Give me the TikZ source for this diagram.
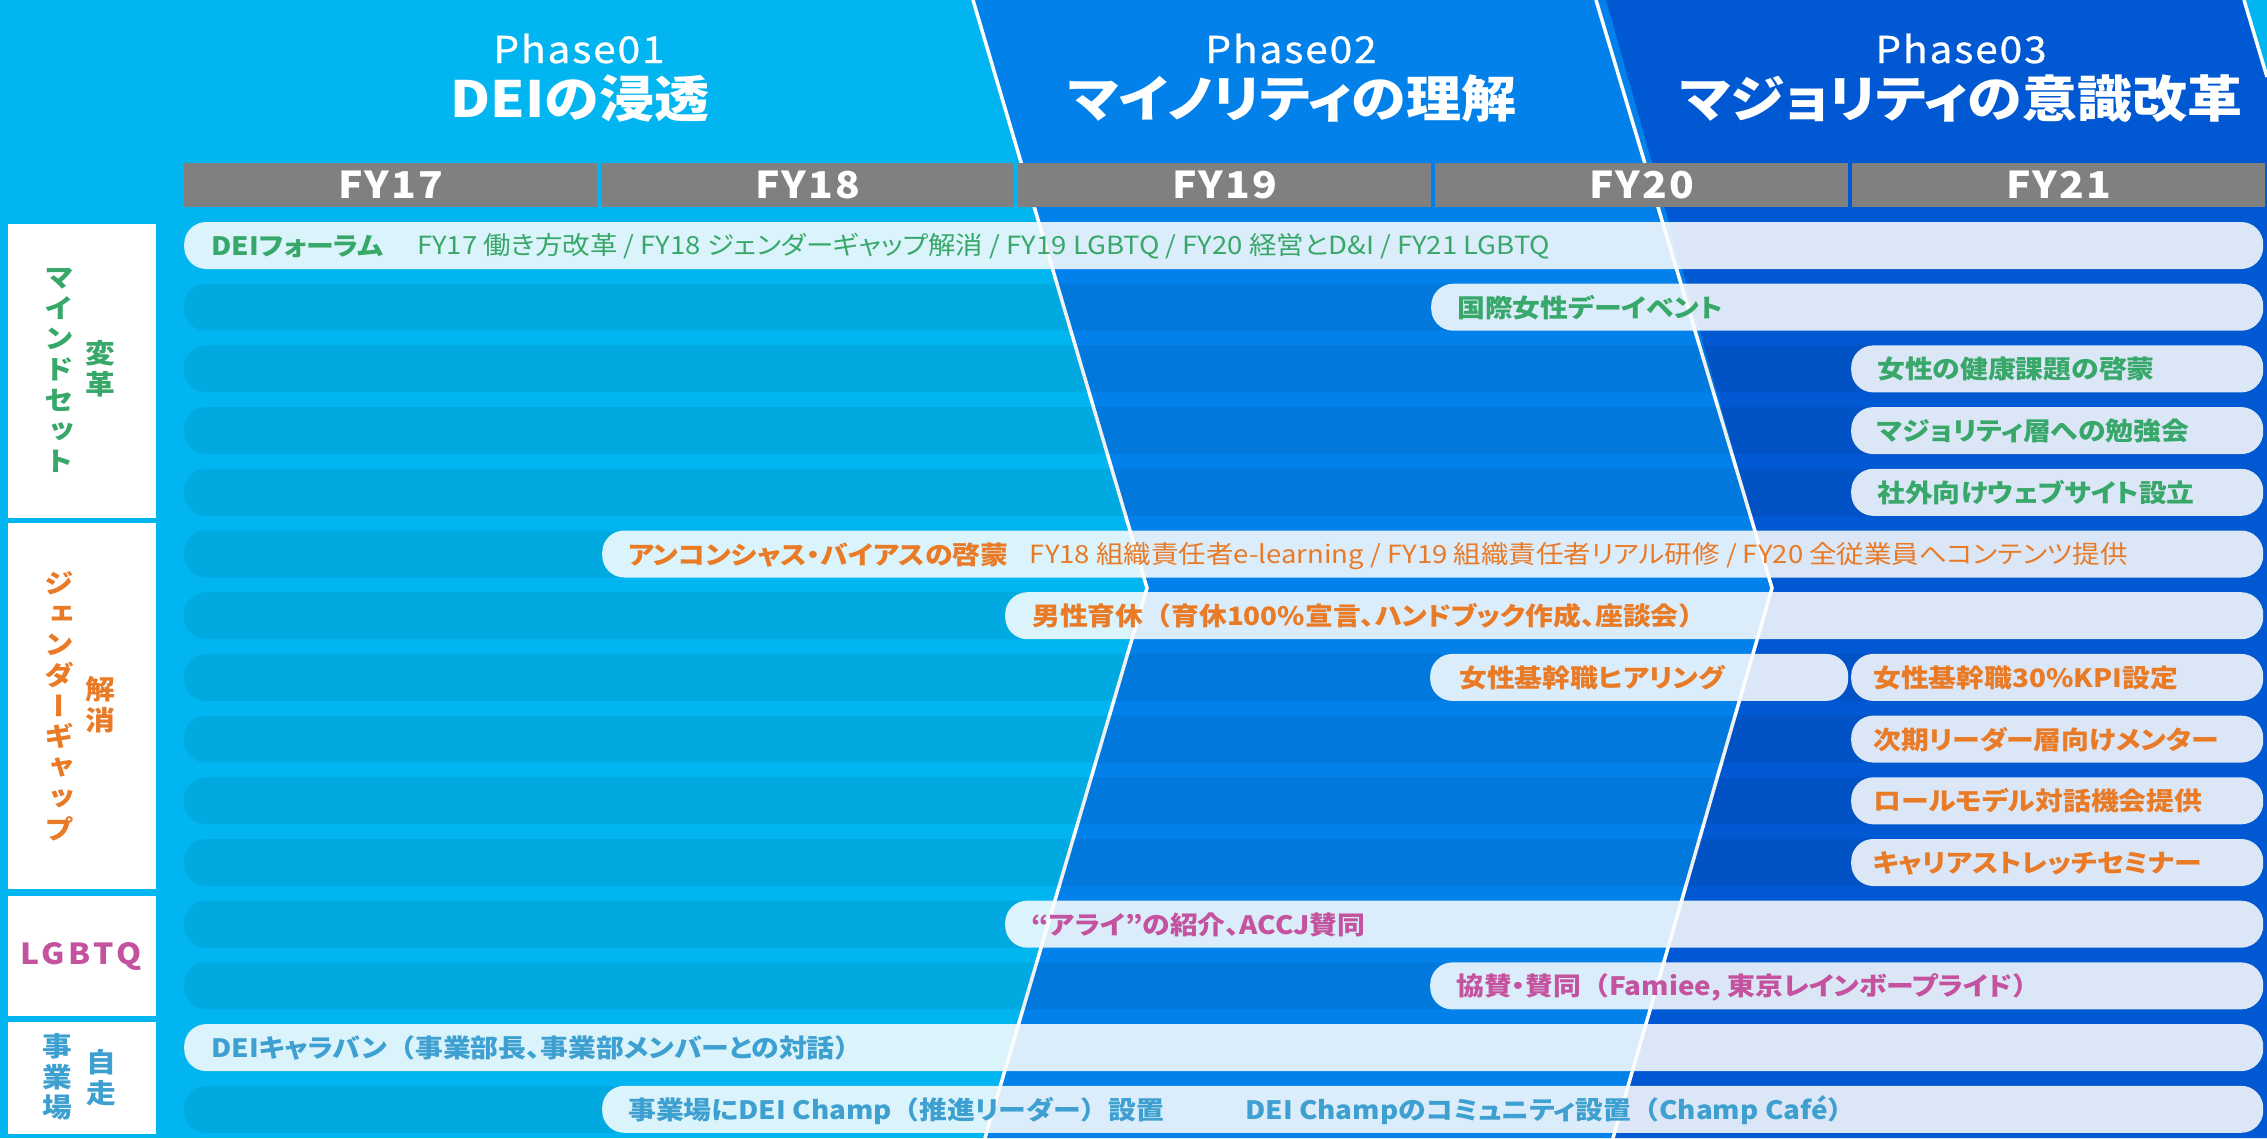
\documentclass[tikz,border=0pt]{standalone}
\usepackage{fontspec}
\setmainfont{Noto Sans CJK JP}[FakeStretch=1.1,RawFeature=+palt]
\newfontfamily\vfont{Noto Sans CJK JP}[FakeStretch=1.1,RawFeature=+vert]
\newfontfamily\fwfont{Noto Sans CJK JP}[FakeStretch=1.1]
\newcommand{\lpar}{{\fwfont （}}
\newcommand{\rpar}{{\fwfont ）}}
\definecolor{bgc}{RGB}{0,181,240}
\definecolor{phtwo}{RGB}{2,129,234}
\definecolor{phthree}{RGB}{0,88,210}
\definecolor{fygray}{RGB}{128,128,128}
\definecolor{cgreen}{RGB}{56,168,106}
\definecolor{corange}{RGB}{233,122,38}
\definecolor{cmagenta}{RGB}{196,82,158}
\definecolor{cblue}{RGB}{62,160,208}
\begin{document}
\begin{tikzpicture}[x=1pt,y=-1pt,
  lane/.style={fill=black,fill opacity=0.06,rounded corners=22},
  pill/.style={anchor=west,minimum height=47,inner sep=0,fill=white,fill opacity=0.86,rounded corners=22},
  btxt/.style={anchor=base west,inner sep=0,font=\bfseries\fontsize{25.3}{30}\selectfont},
  rtxt/.style={anchor=base west,inner sep=0,font=\fontsize{25}{28}\selectfont},
  fybox/.style={fill=fygray,minimum height=44,minimum width=413,inner sep=0,text=white,font=\bfseries\addfontfeatures{LetterSpace=6}\fontsize{37}{40}\selectfont},
  ptitle/.style={anchor=base,inner sep=0,text=white,font=\addfontfeatures{LetterSpace=5,FakeBold=0.8}\fontsize{37}{40}\selectfont},
  btitle/.style={anchor=base,inner sep=0,text=white,font=\bfseries\fontsize{50}{54}\selectfont},
  gbox/.style={fill=white,minimum width=148,inner sep=0},
  vlab/.style={inner sep=0,align=center,font=\vfont\bfseries\fontsize{27}{30.7}\selectfont},
  wline/.style={draw=white,line width=3.5}
]
\useasboundingbox (0,0) rectangle (2267,1138);
\fill[bgc] (0,0) rectangle (2267,1138);
% phase boundaries
\coordinate (a0) at (973,0);
\coordinate (a1) at (1147,588);
\coordinate (a2) at (985,1138);
\coordinate (b0) at (1596,0);
\coordinate (b0r) at (1606,0);
\coordinate (b1) at (1772,588);
\coordinate (b2) at (1613,1138);
\coordinate (c0) at (2244,0);
\coordinate (c1) at (2267,77);
\coordinate (c2) at (2267,1138);
\fill[phtwo] (a0) -- (b0r) -- (b1) -- (b2) -- (a2) -- (a1) -- cycle;
\fill[phthree] (b0r) -- (c0) -- (c1) -- (c2) -- (b2) -- (b1) -- cycle;
\draw[wline] (a0) -- (a1) -- (a2);
\draw[wline] (b0) -- (b1) -- (b2);
\draw[wline] (c0) -- (c1);
% lanes
\foreach \yy in {245.5,307.2,368.9,430.6,492.3,554.0,615.7,677.4,739.1,800.8,862.5,924.2,985.9,1047.6,1109.3}
  \fill[lane] (184,{\yy-23.5}) rectangle (2263,{\yy+23.5});
% titles
\node[ptitle] (ph1a) at (579,63) {Phase01};
\node[btitle] (ph1b) at (580,117) {DEIの浸透};
\node[ptitle] (ph2a) at (1291,63) {Phase02};
\node[btitle] (ph2b) at (1292,117) {マイノリティの理解};
\node[ptitle] (ph3a) at (1961,63) {Phase03};
\node[btitle] (ph3b) at (1961,117) {マジョリティの意識改革};
% FY header
\node[fybox] (fy17) at (390.5,185) {FY17};
\node[fybox] (fy18) at (807.5,185) {FY18};
\node[fybox] (fy19) at (1224.5,185) {FY19};
\node[fybox] (fy20) at (1641.5,185) {FY20};
\node[fybox] (fy21) at (2058.5,185) {FY21};
% group boxes
\node[gbox,minimum height=294] (g1) at (82,371) {};
\node[gbox,minimum height=366] (g2) at (82,706) {};
\node[gbox,minimum height=120] (g3) at (82,956) {};
\node[gbox,minimum height=112] (g4) at (82,1078) {};
\node[vlab,text=cgreen] (v1a) at (59,370.5) {マ\\イ\\ン\\ド\\セ\\ッ\\ト};
\node[vlab,text=cgreen] (v1b) at (100,369) {変\\革};
\node[vlab,text=corange] (v2a) at (59,706) {ジ\\ェ\\ン\\ダ\\ー\\ギ\\ャ\\ッ\\プ};
\node[vlab,text=corange] (v2b) at (100,705) {解\\消};
\node[inner sep=0,text=cmagenta,font=\bfseries\addfontfeatures{LetterSpace=12}\fontsize{29}{32}\selectfont] (v3) at (81,957) {LGBTQ};
\node[vlab,text=cblue] (v4a) at (57,1077) {事\\業\\場};
\node[vlab,text=cblue] (v4b) at (101,1077.5) {自\\走};
% pills
\node[pill,minimum width=2079] (p1) at (184,245.5) {};
\node[pill,minimum width=832] (p2) at (1431,307.2) {};
\node[pill,minimum width=412] (p3) at (1851,368.9) {};
\node[pill,minimum width=412] (p4) at (1851,430.6) {};
\node[pill,minimum width=412] (p5) at (1851,492.3) {};
\node[pill,minimum width=1661] (p6) at (602,554.0) {};
\node[pill,minimum width=1258] (p7) at (1005,615.7) {};
\node[pill,minimum width=418] (p8a) at (1430,677.4) {};
\node[pill,minimum width=412] (p8b) at (1851,677.4) {};
\node[pill,minimum width=412] (p9) at (1851,739.1) {};
\node[pill,minimum width=412] (p10) at (1851,800.8) {};
\node[pill,minimum width=412] (p11) at (1851,862.5) {};
\node[pill,minimum width=1258] (p12) at (1005,924.2) {};
\node[pill,minimum width=833] (p13) at (1430,985.9) {};
\node[pill,minimum width=2079] (p14) at (184,1047.6) {};
\node[pill,minimum width=1661] (p15) at (602,1109.3) {};
% texts
\node[btxt,text=cgreen] (t1a) at (211,255.5) {DEIフォーラム};
\node[rtxt,text=cgreen] (t1b) at (417,254.5) {FY17 働き方改革 / FY18 ジェンダーギャップ解消 / FY19 LGBTQ / FY20 経営とD\&I / FY21 LGBTQ};
\node[btxt,text=cgreen] (t2) at (1457,317.2) {国際女性デーイベント};
\node[btxt,text=cgreen] (t3) at (1877,378.9) {女性の健康課題の啓蒙};
\node[btxt,text=cgreen] (t4) at (1877,440.6) {マジョリティ層への勉強会};
\node[btxt,text=cgreen] (t5) at (1877,502.3) {社外向けウェブサイト設立};
\node[btxt,text=corange] (t6a) at (628,564) {アンコンシャス・バイアスの啓蒙};
\node[rtxt,text=corange] (t6b) at ([xshift=21,yshift=1]t6a.base east) {FY18 組織責任者e-learning / FY19 組織責任者リアル研修 / FY20 全従業員へコンテンツ提供};
\node[btxt,text=corange] (t7) at (1032,625.7) {男性育休\lpar 育休100\%宣言、ハンドブック作成、座談会\rpar};
\node[btxt,text=corange] (t8a) at (1459,687.4) {女性基幹職ヒアリング};
\node[btxt,text=corange] (t8b) at (1873,687.4) {女性基幹職30\%KPI設定};
\node[btxt,text=corange] (t9) at (1873,749.1) {次期リーダー層向けメンター};
\node[btxt,text=corange] (t10) at (1873,810.8) {ロールモデル対話機会提供};
\node[btxt,text=corange] (t11) at (1873,872.5) {キャリアストレッチセミナー};
\node[btxt,text=cmagenta] (t12) at (1031,934.2) {“アライ”の紹介、ACCJ賛同};
\node[btxt,text=cmagenta] (t13) at (1456,995.9) {協賛・賛同\lpar Famiee, 東京レインボープライド\rpar};
\node[btxt,text=cblue] (t14) at (211,1057.6) {DEIキャラバン\lpar 事業部長、事業部メンバーとの対話\rpar};
\node[btxt,text=cblue] (t15a) at (628,1119.3) {事業場にDEI Champ\lpar 推進リーダー\rpar 設置};
\node[btxt,text=cblue] (t15b) at (1245,1119.3) {DEI Champのコミュニティ設置\lpar Champ Café\rpar};
\end{tikzpicture}
\end{document}
